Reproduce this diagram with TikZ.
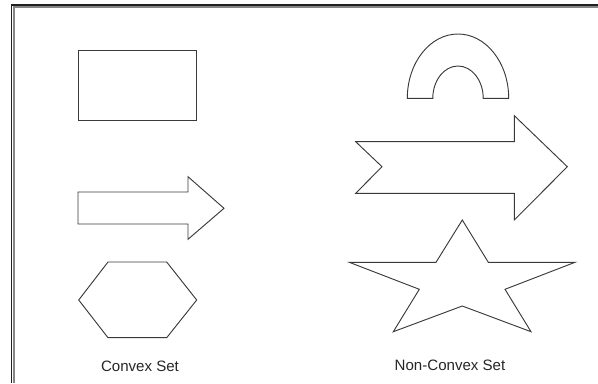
\documentclass[tikz,border=0pt]{standalone}
\usepackage{fontspec}
\setmainfont{Liberation Sans}
\usepackage{tikz}
\definecolor{outline}{HTML}{3A3A3A}
\definecolor{frameout}{HTML}{202020}
\definecolor{framein}{HTML}{858585}
\definecolor{captext}{HTML}{262626}
\tikzset{
  setshape/.style={draw=outline,line width=0.7pt,line join=miter,fill=white},
  framedark/.style={draw=frameout,line width=0.95pt},
  framelight/.style={draw=framein,line width=1.3pt},
  caption/.style={font=\fontsize{11.3}{13}\selectfont,text=captext,inner sep=0pt},
}

\begin{document}
\begin{tikzpicture}[x=0.75pt,y=0.75pt]
  \useasboundingbox (0,0) rectangle (598,383);
  % sunken panel edge
  \draw[framedark] (11.6,0) -- (11.6,378) -- (598,378);
  \draw[framelight] (14.2,0) -- (14.2,375.8) -- (598,375.8);
  % convex examples
  \draw[setshape] (78,262.7) rectangle (196.7,333);
  \draw[setshape] (78,191) -- (188,191) -- (188,206.3) -- (224,174.7)
    -- (188,143.7) -- (188,159) -- (78,159) -- cycle;
  \draw[setshape] (108,121) -- (166.7,121) -- (196.7,83) -- (166.7,45.3)
    -- (108,45.3) -- (78.7,83) -- cycle;
  % non-convex examples
  \draw[setshape] (407.3,284.7) arc[start angle=180,end angle=0,x radius=50.7,y radius=64.3]
    -- (483.2,284.7) arc[start angle=0,end angle=180,x radius=25.2,y radius=32.3] -- cycle;
  \draw[setshape] (355.7,241.3) -- (514.3,241.3) -- (514.3,267.3) -- (567.3,216.3)
    -- (514.3,163) -- (514.3,189.7) -- (355.7,189.7) -- (382,216.3) -- cycle;
  \draw[setshape] (462.3,163) -- (488.3,120.7) -- (575,120.7) -- (505,93.7)
    -- (531,51.3) -- (462.3,77) -- (393.3,51.3) -- (419.3,93.7)
    -- (349.3,120.7) -- (436,120.7) -- cycle;
  \node[caption] (convex) at (140,16.3) {Convex Set};
  \node[caption] (nonconvex) at (450,18) {Non-Convex Set};
\end{tikzpicture}
\end{document}
